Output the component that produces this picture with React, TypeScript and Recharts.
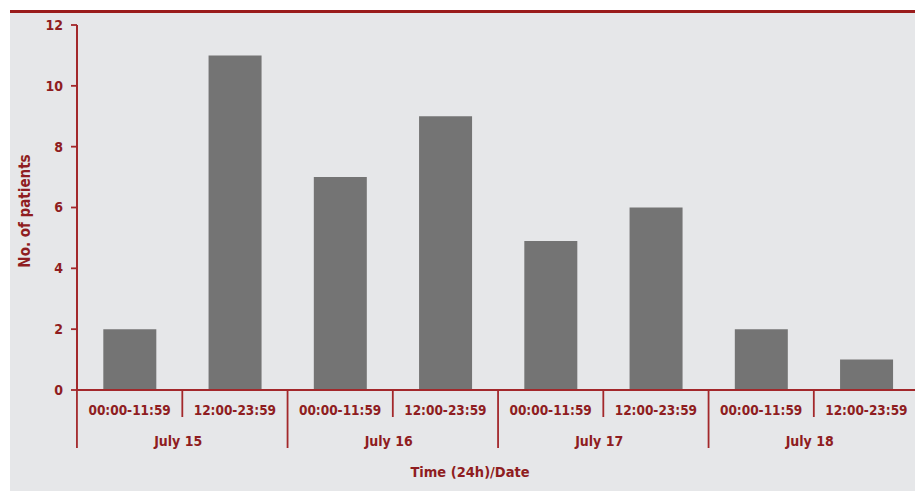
import { BarChart, Bar, XAxis, YAxis, Label } from "recharts";

const timeSlots = [
  "00:00-11:59",
  "12:00-23:59",
  "00:00-11:59",
  "12:00-23:59",
  "00:00-11:59",
  "12:00-23:59",
  "00:00-11:59",
  "12:00-23:59",
];
const dates = ["July 15", "July 16", "July 17", "July 18"];
const patients = [2, 11, 7, 9, 4.9, 6, 2, 1];
const yTicks = [0, 2, 4, 6, 8, 10, 12];

const RED_TEXT = "#8f1d21";
const RED_LINE = "#a3282b";
const BAR = "#747474";
const PANEL = "#e6e7e9";
const FONT = "'DejaVu Sans Condensed', 'DejaVu Sans', sans-serif";

const CHART_W = 920;
const CHART_H = 491;
const PLOT_LEFT = 76;
const PLOT_RIGHT = 919;
const BAND = (PLOT_RIGHT - PLOT_LEFT) / timeSlots.length;

const data = timeSlots.map((slot, i) => ({
  id: i,
  slot,
  date: dates[Math.floor(i / 2)],
  patients: patients[i],
}));

// two-level category axis: time slot on top, date underneath, with separators
function SlotTick(props: any) {
  const { x, y, payload } = props;
  const i = payload.index;
  const axisY = y;
  const right = x + BAND / 2;
  const left = x - BAND / 2;
  return (
    <g>
      <text
        x={x}
        y={axisY + 25}
        textAnchor="middle"
        fill={RED_TEXT}
        fontSize={13.5}
        fontWeight="bold"
        fontFamily={FONT}
        style={{ fontStretch: "condensed" }}
      >
        {timeSlots[i]}
      </text>
      {i === 0 && (
        <line x1={left} y1={axisY} x2={left} y2={axisY + 58} stroke={RED_LINE} strokeWidth={1.8} />
      )}
      {i % 2 === 0 && (
        <line x1={right} y1={axisY} x2={right} y2={axisY + 27} stroke={RED_LINE} strokeWidth={1.8} />
      )}
      {i % 2 === 1 && i < timeSlots.length - 1 && (
        <line x1={right} y1={axisY} x2={right} y2={axisY + 58} stroke={RED_LINE} strokeWidth={1.8} />
      )}
      {i % 2 === 1 && (
        <text
          x={left - 4}
          y={axisY + 56}
          textAnchor="middle"
          fill={RED_TEXT}
          fontSize={14}
          fontWeight="bold"
          fontFamily={FONT}
          style={{ fontStretch: "condensed" }}
        >
          {dates[Math.floor(i / 2)]}
        </text>
      )}
    </g>
  );
}

export default function App() {
  return (
    <div
      style={{
        position: "absolute",
        left: 0,
        top: 0,
        width: 915,
        height: 491,
        overflow: "hidden",
        background: "#ffffff",
        fontFamily: FONT,
      }}
    >
      <div style={{ position: "absolute", left: 10, top: 10, width: 905, height: 3, background: "#9a1c1c" }} />
      <div style={{ position: "absolute", left: 10, top: 13, width: 905, height: 478, background: PANEL }} />
      <div style={{ position: "absolute", left: 0, top: 0 }}>
        <BarChart
          width={CHART_W}
          height={CHART_H}
          data={data}
          margin={{ top: 25, right: CHART_W - PLOT_RIGHT, bottom: 0, left: 17 }}
          barCategoryGap="25%"
        >
          <XAxis
            dataKey="id"
            type="category"
            height={101}
            interval={0}
            axisLine={{ stroke: RED_LINE, strokeWidth: 2 }}
            tickLine={false}
            tickSize={0}
            tickMargin={0}
            tick={<SlotTick />}
          >
            <Label
              content={() => (
                <text
                  x={470}
                  y={477}
                  textAnchor="middle"
                  fill={RED_TEXT}
                  fontSize={14.5}
                  fontWeight="bold"
                  fontFamily={FONT}
                  style={{ fontStretch: "condensed" }}
                >
                  Time (24h)/Date
                </text>
              )}
            />
          </XAxis>
          <YAxis
            width={60}
            domain={[0, 12]}
            ticks={yTicks}
            interval={0}
            axisLine={{ stroke: RED_LINE, strokeWidth: 2 }}
            tickLine={{ stroke: RED_LINE, strokeWidth: 1.8 }}
            tickSize={6}
            tickMargin={8}
            tick={{
              fill: RED_TEXT,
              fontSize: 14,
              fontWeight: "bold",
              fontFamily: FONT,
              style: { fontStretch: "condensed" },
            }}
          >
            <Label
              content={() => (
                <text
                  x={30}
                  y={211}
                  transform="rotate(-90 30 211)"
                  textAnchor="middle"
                  fill={RED_TEXT}
                  fontSize={15}
                  fontWeight="bold"
                  fontFamily={FONT}
                  style={{ fontStretch: "condensed" }}
                >
                  No. of patients
                </text>
              )}
            />
          </YAxis>
          <Bar dataKey="patients" fill={BAR} isAnimationActive={false} />
        </BarChart>
      </div>
    </div>
  );
}
